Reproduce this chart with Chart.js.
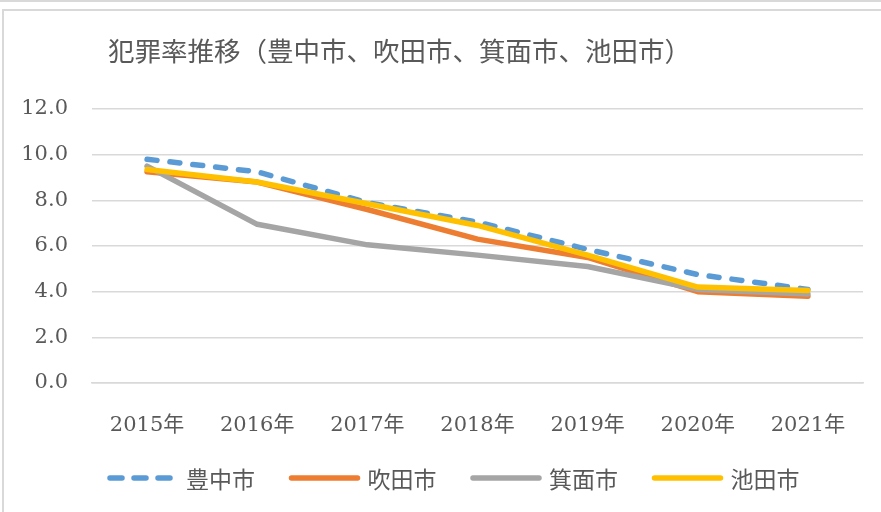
<!DOCTYPE html>
<html>
<head>
<meta charset="utf-8">
<script src="https://cdn.jsdelivr.net/npm/chart.js@4"></script>
<style>
  html, body { margin: 0; padding: 0; background: #fff; overflow: hidden; }
  body { width: 881px; height: 512px; position: relative; }
  .topbar { position: absolute; left: 0; top: 0; width: 881px; height: 2px; background: #d9d9d9; }
  .frame { position: absolute; left: 2px; top: 9px; width: 910px; height: 520px;
           border-left: 2px solid #d9d9d9; border-top: 2px solid #d9d9d9; }
  #chart { position: absolute; left: 4px; top: 11px; }
</style>
</head>
<body>
<div class="topbar"></div>
<div class="frame"></div>
<canvas id="chart" width="896" height="501"></canvas>
<script>
// données
const years = ['2015年', '2016年', '2017年', '2018年', '2019年', '2020年', '2021年'];
const toyonaka = [9.8, 9.25, 7.9, 7.05, 5.85, 4.75, 4.1];
const suita = [9.25, 8.8, 7.6, 6.3, 5.5, 4.0, 3.8];
const minoh = [9.5, 6.95, 6.05, 5.6, 5.1, 4.1, 3.9];
const ikeda = [9.35, 8.8, 7.85, 6.9, 5.6, 4.2, 4.05];
const yTicks = [0, 2, 4, 6, 8, 10, 12];

const titleText = '犯罪率推移（豊中市、吹田市、箕面市、池田市）';
const textColor = '#595959';
const serif = '"DejaVu Serif", "Noto Sans CJK JP"';

// titre dessiné à gauche
const titlePlugin = {
  id: 'leftTitle',
  afterDraw(chart) {
    const ctx = chart.ctx;
    ctx.save();
    ctx.fillStyle = textColor;
    ctx.font = '26.5px "Noto Sans CJK JP"';
    ctx.textBaseline = 'middle';
    ctx.fillText(titleText, 104, 40);
    ctx.restore();
  }
};

// légende en bas, avec les tirets du dataset
const legendPlugin = {
  id: 'lineLegend',
  afterDraw(chart) {
    const ctx = chart.ctx;
    const y = 467;
    let x = 103;
    ctx.save();
    ctx.font = '23px "Noto Sans CJK JP"';
    ctx.textBaseline = 'middle';
    chart.data.datasets.forEach(ds => {
      ctx.beginPath();
      ctx.setLineDash(ds.borderDash.length ? [12, 12] : []);
      ctx.lineCap = 'round';
      ctx.lineWidth = 5.5;
      ctx.strokeStyle = ds.borderColor;
      ctx.moveTo(x + 3, y);
      ctx.lineTo(x + 69, y);
      ctx.stroke();
      ctx.setLineDash([]);
      ctx.fillStyle = textColor;
      ctx.fillText(ds.label, x + 79, y + 1);
      x += 181.5;
    });
    ctx.restore();
  }
};

function line(label, data, color, order, dash) {
  return {
    label, data, order,
    borderColor: color,
    backgroundColor: color,
    borderWidth: 5.5,
    borderDash: dash || [],
    borderCapStyle: 'round',
    borderJoinStyle: 'round',
    pointRadius: 0,
    tension: 0,
    fill: false
  };
}

new Chart(document.getElementById('chart').getContext('2d'), {
  type: 'line',
  data: {
    labels: years,
    datasets: [
      line('豊中市', toyonaka, '#5B9BD5', 4, [10, 13]),
      line('吹田市', suita, '#ED7D31', 3),
      line('箕面市', minoh, '#A5A5A5', 2),
      line('池田市', ikeda, '#FFC000', 1)
    ]
  },
  options: {
    responsive: false,
    animation: false,
    layout: { padding: { left: 0, right: 37, top: 98, bottom: 69 } },
    plugins: {
      title: { display: false },
      tooltip: { enabled: false },
      legend: { display: false }
    },
    scales: {
      x: {
        offset: true,
        grid: { display: false },
        border: { display: true, color: '#d9d9d9', width: 1.5 },
        ticks: { color: textColor, padding: 22, font: { family: serif, size: 21 } },
        afterFit: s => { s.height = 60; }
      },
      y: {
        min: 0,
        max: 12,
        afterBuildTicks: s => { s.ticks = yTicks.map(v => ({ value: v })); },
        grid: { color: '#d9d9d9', lineWidth: 1.5, drawTicks: false },
        border: { display: false },
        ticks: {
          color: textColor,
          padding: 24,
          font: { family: serif, size: 21 },
          callback: v => v.toFixed(1)
        },
        afterFit: s => { s.width = 88; }
      }
    }
  },
  plugins: [titlePlugin, legendPlugin]
});
</script>
</body>
</html>
